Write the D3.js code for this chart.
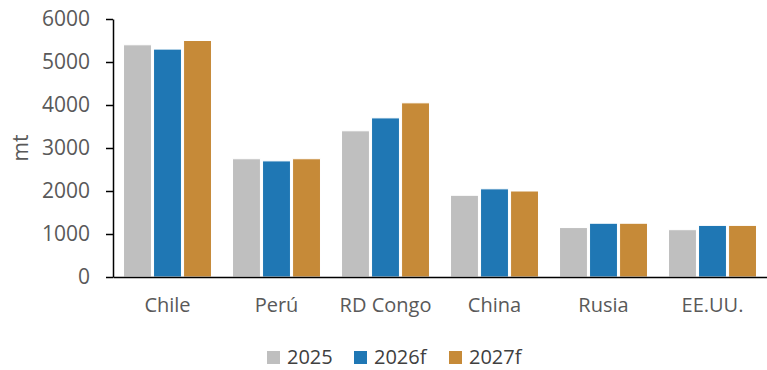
<!DOCTYPE html>
<html>
<head>
<meta charset="utf-8">
<script src="https://cdn.jsdelivr.net/npm/d3@7"></script>
<style>
  html, body { margin: 0; padding: 0; background: #fff; }
  svg { display: block; font-family: "Open Sans", sans-serif; }
</style>
</head>
<body>
<svg id="chart" width="767" height="370"></svg>
<script>
const categories = ["Chile", "Perú", "RD Congo", "China", "Rusia", "EE.UU."];
const seriesNames = ["2025", "2026f", "2027f"];
const values2025 = [5400, 2750, 3400, 1900, 1150, 1100];
const values2026f = [5300, 2700, 3700, 2050, 1250, 1200];
const values2027f = [5500, 2750, 4050, 2000, 1250, 1200];
const yTicks = [0, 1000, 2000, 3000, 4000, 5000, 6000];
const colors = ["#bfbfbf", "#1f77b4", "#c68a38"];
const yTitle = "mt";

const seriesValues = [values2025, values2026f, values2027f];
const svg = d3.select("#chart");

const x0 = d3.scaleBand().domain(categories).range([113, 767])
  .paddingInner(0.193).paddingOuter(0.0965);
const x1 = d3.scaleBand().domain(seriesNames).range([0, x0.bandwidth()])
  .paddingInner(0.07);
const y = d3.scaleLinear().domain([0, 6000]).range([277, 19]);

// bars
categories.forEach((c, ci) => {
  const g = svg.append("g").attr("transform", `translate(${x0(c)},0)`);
  seriesNames.forEach((s, si) => {
    const v = seriesValues[si][ci];
    g.append("rect")
      .attr("x", x1(s))
      .attr("y", y(v))
      .attr("width", x1.bandwidth())
      .attr("height", y(0) - y(v))
      .attr("fill", colors[si])
      .attr("stroke", "#ffffff")
      .attr("stroke-width", 1);
  });
});

// y axis
const yAxis = svg.append("g").attr("transform", "translate(113,0)")
  .call(d3.axisLeft(y).tickValues(yTicks).tickFormat(d3.format("d")).tickSize(7).tickPadding(16).tickSizeOuter(0));
yAxis.select(".domain").attr("stroke", "#000").attr("stroke-width", 1.5);
yAxis.selectAll(".tick line").attr("stroke", "#000").attr("stroke-width", 1.5);
yAxis.selectAll(".tick text").attr("fill", "#595959").style("font-size", "21px")
  .style("font-family", "'Open Sans', sans-serif");

// x axis
const xAxis = svg.append("g").attr("transform", "translate(0,277)")
  .call(d3.axisBottom(x0).tickSize(0).tickPadding(21).tickSizeOuter(0));
xAxis.select(".domain").attr("stroke", "#000").attr("stroke-width", 1.5);
xAxis.selectAll(".tick text").attr("fill", "#595959").style("font-size", "20px")
  .style("font-family", "'Open Sans', sans-serif");

// y title
svg.append("text")
  .attr("transform", "translate(28,148) rotate(-90)")
  .attr("text-anchor", "middle")
  .attr("fill", "#595959")
  .style("font-size", "21px")
  .text(yTitle);

// legend
const legendX = [267, 354, 449];
seriesNames.forEach((s, i) => {
  svg.append("rect").attr("x", legendX[i]).attr("y", 351).attr("width", 13).attr("height", 13)
    .attr("fill", colors[i]);
  svg.append("text").attr("x", legendX[i] + 20).attr("y", 364)
    .attr("fill", "#404040").style("font-size", "20px").text(s);
});
</script>
</body>
</html>
